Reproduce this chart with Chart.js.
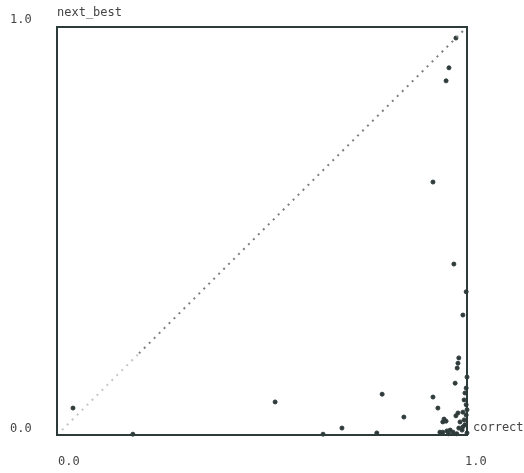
<!DOCTYPE html>
<html>
<head>
<meta charset="utf-8">
<script src="https://cdn.jsdelivr.net/npm/chart.js@4/dist/chart.umd.min.js"></script>
<style>
	html, body { margin: 0; padding: 0; background: #fff; }
	#contenedor { width: 524px; height: 473px; }
</style>
</head>
<body>
<div id="contenedor"><canvas id="dispersionChart"></canvas></div>
<script>
// valores (correct, next_best)
var valoresCorrect = [
	0.039, 0.185, 0.649, 0.532, 0.695, 0.780, 0.793, 0.846,
	0.973, 0.956, 0.949, 0.917, 0.968, 0.998, 0.990, 0.980,
	0.978, 0.976, 1.000, 0.971, 0.917, 0.995, 0.993, 0.929,
	0.978, 0.973, 0.990, 0.944, 0.941, 0.949, 0.983, 0.993,
	0.990, 0.934, 0.941, 0.951, 0.959, 0.966, 0.980, 0.988,
	0.995, 0.998, 0.998, 1.000, 0.975, 0.955, 1.000, 0.998
];
var valoresNextBest = [
	0.066, 0.002, 0.002, 0.081, 0.017, 0.005, 0.100, 0.044,
	0.973, 0.900, 0.868, 0.620, 0.419, 0.351, 0.294, 0.189,
	0.176, 0.164, 0.142, 0.127, 0.093, 0.103, 0.086, 0.066,
	0.054, 0.047, 0.056, 0.039, 0.032, 0.034, 0.032, 0.037,
	0.020, 0.007, 0.007, 0.010, 0.012, 0.007, 0.017, 0.012,
	0.025, 0.049, 0.074, 0.005, 0.003, 0.003, 0.062, 0.115
];

// linea diagonal punteada y = x (tramo tenue y tramo marcado)
var diagonalTenue = [0, 0.2];
var diagonalMarcada = [0.2, 1];

// etiquetas de ejes
var ticksX = ['0.0', '1.0'];
var ticksY = ['0.0', '1.0'];
var tituloX = 'correct';
var tituloY = 'next_best';

function armarPuntos(xs, ys) {
	let puntos = [];
	for (let i = 0; i < xs.length; i++) {
		puntos.push({ x: xs[i], y: ys[i] });
	}
	return puntos;
}

var fuente = '12px "DejaVu Sans Mono", monospace';

var etiquetasPlugin = {
	id: 'etiquetas',
	afterDraw: function (chart) {
		const ctx = chart.ctx;
		const sx = chart.scales.x;
		const sy = chart.scales.y;
		const a = chart.chartArea;

		ctx.save();
		// marco
		ctx.strokeStyle = '#2c3a3a';
		ctx.lineWidth = 2;
		ctx.strokeRect(a.left, a.top, a.right - a.left, a.bottom - a.top);

		ctx.fillStyle = '#444';
		ctx.font = fuente;
		ctx.textBaseline = 'middle';
		ctx.textAlign = 'left';

		// eje y
		ctx.fillText(ticksY[0], 10, sy.getPixelForValue(0) - 6);
		ctx.fillText(ticksY[1], 10, sy.getPixelForValue(1) - 7);
		ctx.fillText(tituloY, a.left, a.top - 14);

		// eje x
		ctx.fillText(ticksX[0], sx.getPixelForValue(0) + 1, a.bottom + 27);
		ctx.fillText(ticksX[1], sx.getPixelForValue(1) - 2, a.bottom + 27);
		ctx.fillText(tituloX, a.right + 6, a.bottom - 7);
		ctx.restore();
	}
};

var ctx = document.getElementById('dispersionChart').getContext('2d');

var dispersionChart = new Chart(ctx, {
	type: 'scatter',
	data: {
		datasets: [
			{
				label: 'diagonal tenue',
				type: 'line',
				data: armarPuntos(diagonalTenue, diagonalTenue),
				borderColor: '#c4c8c8',
				borderWidth: 2,
				borderDash: [2, 5],
				pointRadius: 0,
				fill: false
			},
			{
				label: 'diagonal',
				type: 'line',
				data: armarPuntos(diagonalMarcada, diagonalMarcada),
				borderColor: '#7a8080',
				borderWidth: 2,
				borderDash: [2, 5],
				pointRadius: 0,
				fill: false
			},
			{
				label: 'next_best',
				data: armarPuntos(valoresCorrect, valoresNextBest),
				backgroundColor: '#2f3b3b',
				borderColor: '#2f3b3b',
				pointRadius: 2,
				pointHoverRadius: 2
			}
		]
	},
	options: {
		responsive: true,
		maintainAspectRatio: false,
		animation: false,
		clip: false,
		layout: {
			padding: { left: 57, right: 57, top: 27, bottom: 38 }
		},
		plugins: {
			legend: { display: false },
			tooltip: { enabled: false }
		},
		scales: {
			x: { type: 'linear', min: 0, max: 1, display: false },
			y: { type: 'linear', min: 0, max: 1, display: false }
		}
	},
	plugins: [etiquetasPlugin]
});
</script>
</body>
</html>
